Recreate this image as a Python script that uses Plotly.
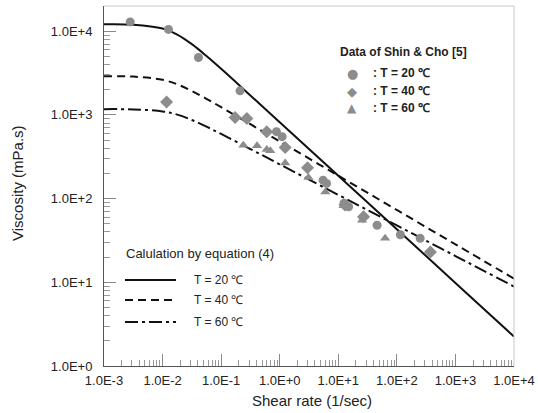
import plotly.graph_objects as go

# ---------------- data ----------------
curve_x = [0.001, 0.00316, 0.01, 0.0178, 0.0316, 0.0562, 0.1, 0.316, 1, 10, 100, 1000, 10000]
curve_20 = [12110, 11960, 10760, 9120, 7000, 5050, 3550, 1708, 818, 187.5, 43.0, 9.84, 2.25]
curve_40 = [2900, 2868, 2627, 2319, 1932, 1557, 1238, 774, 483, 188, 73.1, 28.4, 11.07]
curve_60 = [1172, 1164, 1101, 1007, 870, 724, 592, 391, 256.7, 110.8, 47.8, 20.6, 8.90]

# measured data of Shin & Cho [5]
data20_x = [0.0028, 0.0126, 0.041, 0.21, 0.88, 1.1, 5.5, 6.3, 12.5, 15, 46, 115, 250]
data20_y = [12900, 10500, 4850, 1940, 630, 550, 166, 152, 88, 80, 48, 37, 33.5]
data40_x = [0.0117, 0.173, 0.275, 0.60, 1.24, 2.98, 13, 27, 374]
data40_y = [1430, 930, 905, 630, 407, 233, 84, 60.6, 23]
data60_x = [0.24, 0.41, 0.60, 0.69, 1.24, 3.1, 6.0, 12.3, 25.5, 27, 63]
data60_y = [435, 427, 387, 372, 267, 179, 120, 82, 55, 60.7, 33.5]

x_tickvals = [1e-3, 1e-2, 1e-1, 1e0, 1e1, 1e2, 1e3, 1e4]
x_ticktext = ["1.0E-3", "1.0E-2", "1.0E-1", "1.0E+0", "1.0E+1", "1.0E+2", "1.0E+3", "1.0E+4"]
y_tickvals = [1e0, 1e1, 1e2, 1e3, 1e4]
y_ticktext = ["1.0E+0", "1.0E+1", "1.0E+2", "1.0E+3", "1.0E+4"]

series_names = ["T = 20 \u2103", "T = 40 \u2103", "T = 60 \u2103"]

# ---------------- layout geometry ----------------
W, H = 538, 413
L, R, T, B = 104, 24, 6, 47
PW, PH = W - L - R, H - T - B
FONT = "Arial, Liberation Sans, Helvetica, sans-serif"


def px_x(p):
    return (p - L) / PW


def px_y(p):
    return (H - B - p) / PH


DASH40 = "8px,5px"
DASH60 = "13px,4px,3px,4px"
MARK = "#8c8c8c"

fig = go.Figure()

fig.add_trace(go.Scatter(x=curve_x, y=curve_20, mode="lines", line=dict(color="#111", width=2, shape="spline"),
                         showlegend=False))
fig.add_trace(go.Scatter(x=curve_x, y=curve_40, mode="lines",
                         line=dict(color="#111", width=2, dash=DASH40, shape="spline"), showlegend=False))
fig.add_trace(go.Scatter(x=curve_x, y=curve_60, mode="lines",
                         line=dict(color="#111", width=2, dash=DASH60, shape="spline"), showlegend=False))

fig.add_trace(go.Scatter(x=data20_x, y=data20_y, mode="markers",
                         marker=dict(symbol="circle", size=9, color=MARK), showlegend=False))
fig.add_trace(go.Scatter(x=data40_x, y=data40_y, mode="markers",
                         marker=dict(symbol="diamond", size=10, color=MARK), showlegend=False))
fig.add_trace(go.Scatter(x=data60_x, y=data60_y, mode="markers",
                         marker=dict(symbol="triangle-up", size=9, color=MARK), showlegend=False))

minor_x = [k * 10 ** e for e in range(-3, 4) for k in range(2, 10)]
minor_y = [k * 10 ** e for e in range(0, 5) for k in range(2, 10) if k * 10 ** e <= 1.8e4]

fig.update_xaxes(type="log", range=[-3, 4], tickvals=x_tickvals, ticktext=x_ticktext,
                 ticks="inside", ticklen=12, tickwidth=1, tickcolor="#888",
                 minor=dict(tickvals=minor_x, ticks="inside", ticklen=6, tickcolor="#999", showgrid=False),
                 showline=True, linecolor="#555", linewidth=1, showgrid=False, zeroline=False,
                 tickfont=dict(family=FONT, size=13, color="#222"), ticklabelstandoff=2,
                 ticklabeloverflow="allow")
fig.update_yaxes(type="log", range=[0, 4.30103], tickvals=y_tickvals, ticktext=y_ticktext,
                 ticks="inside", ticklen=12, tickwidth=1, tickcolor="#888",
                 minor=dict(tickvals=minor_y, ticks="inside", ticklen=6, tickcolor="#999", showgrid=False),
                 showline=True, linecolor="#555", linewidth=1, showgrid=False, zeroline=False,
                 tickfont=dict(family=FONT, size=13, color="#222"), ticklabelstandoff=8)

shapes = [
    dict(type="line", xref="paper", yref="paper", x0=0, x1=1, y0=1, y1=1, line=dict(color="#c8c8c8", width=1)),
    dict(type="line", xref="paper", yref="paper", x0=1, x1=1, y0=0, y1=1, line=dict(color="#c8c8c8", width=1)),
]
annotations = [
    dict(text="Shear rate (1/sec)", xref="paper", yref="paper", x=px_x(312), y=px_y(400),
         showarrow=False, font=dict(family=FONT, size=15, color="#222"), xanchor="center", yanchor="middle"),
    dict(text="Viscosity (mPa.s)", xref="paper", yref="paper", x=px_x(17), y=px_y(183),
         showarrow=False, textangle=-90, font=dict(family=FONT, size=15, color="#222"),
         xanchor="center", yanchor="middle"),
    dict(text="<b>Data of Shin & Cho [5]</b>", xref="paper", yref="paper", x=px_x(338), y=px_y(52),
         showarrow=False, font=dict(family=FONT, size=12, color="#222"), xanchor="left", yanchor="middle"),
    dict(text="Calulation by equation (4)", xref="paper", yref="paper", x=px_x(124), y=px_y(253),
         showarrow=False, font=dict(family=FONT, size=13, color="#222"), xanchor="left", yanchor="middle"),
]

symbols = ["\u25CF", "\u25C6", "\u25B2"]
sym_sizes = [13, 13, 12]
item_y1 = [73, 91, 108]
for name, sym, ss, yy in zip(series_names, symbols, sym_sizes, item_y1):
    annotations.append(dict(text=sym, xref="paper", yref="paper", x=px_x(352), y=px_y(yy), showarrow=False,
                            font=dict(family="DejaVu Sans", size=ss, color=MARK), xanchor="center",
                            yanchor="middle"))
    annotations.append(dict(text="<b>: " + name + "</b>", xref="paper", yref="paper", x=px_x(371), y=px_y(yy),
                            showarrow=False, font=dict(family=FONT, size=12, color="#222"), xanchor="left",
                            yanchor="middle"))

item_y2 = [280, 300, 322]
dashes = ["solid", DASH40, DASH60]
for name, dsh, yy in zip(series_names, dashes, item_y2):
    shapes.append(dict(type="line", xref="paper", yref="paper", x0=px_x(125), x1=px_x(176), y0=px_y(yy),
                       y1=px_y(yy), line=dict(color="#111", width=2, dash=dsh)))
    annotations.append(dict(text=name, xref="paper", yref="paper", x=px_x(192), y=px_y(yy), showarrow=False,
                            font=dict(family=FONT, size=12, color="#222"), xanchor="left", yanchor="middle"))

fig.update_layout(width=W, height=H, margin=dict(l=L, r=R, t=T, b=B, autoexpand=False),
                  paper_bgcolor="white", plot_bgcolor="white", shapes=shapes, annotations=annotations,
                  showlegend=False)

fig.write_html("out.html", config={"displayModeBar": False},
               post_script="document.body.style.margin='0';document.body.style.overflow='hidden';")
